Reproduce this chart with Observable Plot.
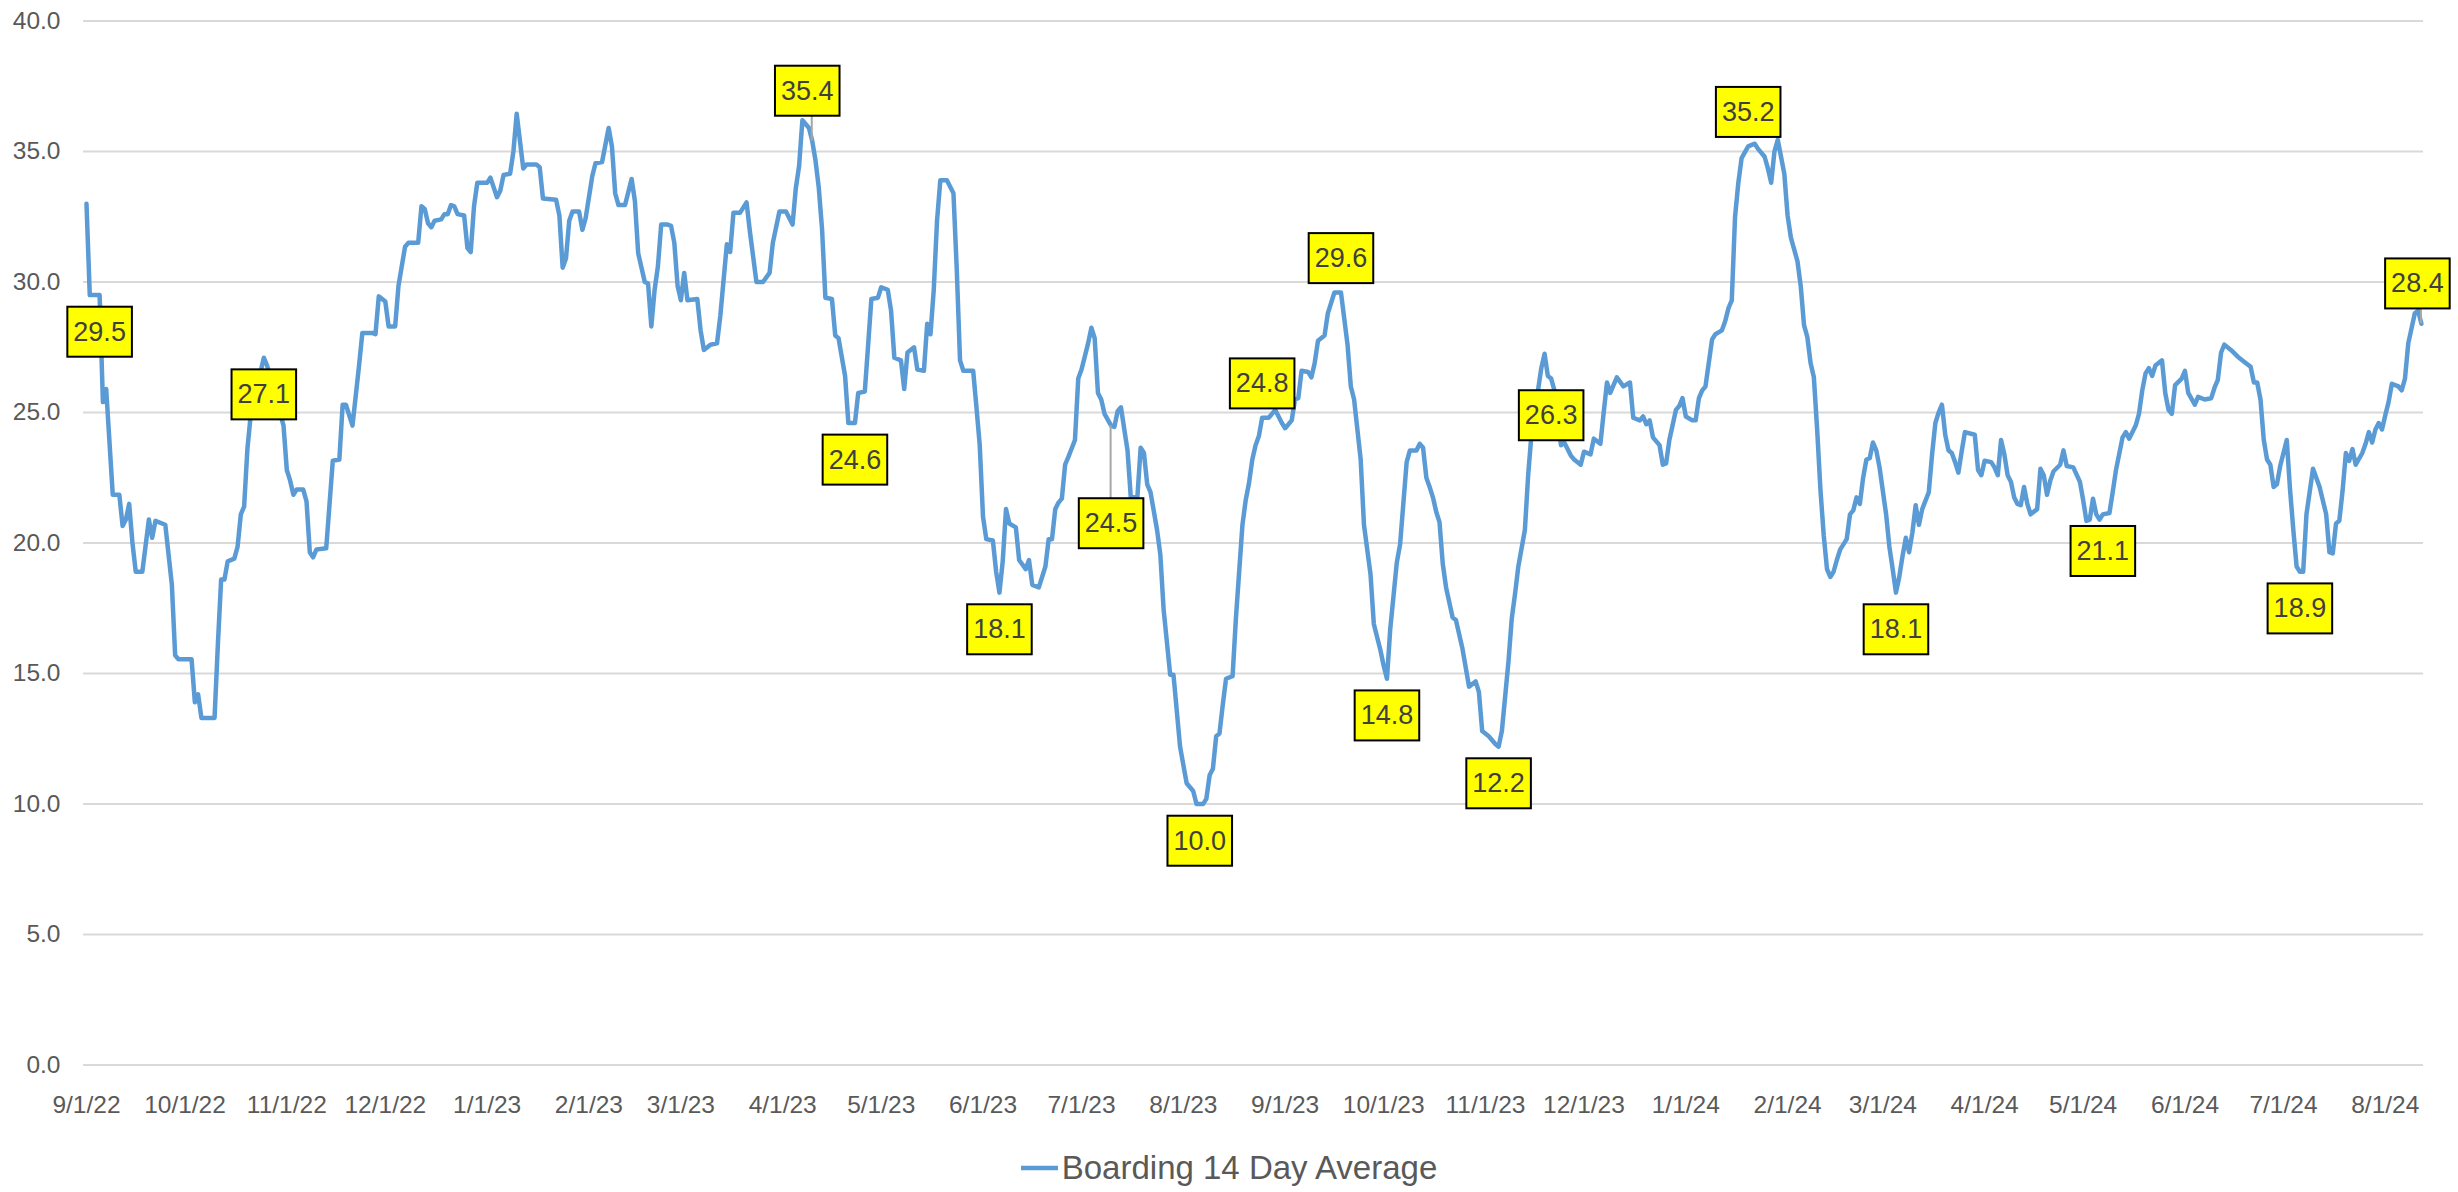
<!DOCTYPE html>
<html>
<head>
<meta charset="utf-8">
<script src="https://cdn.jsdelivr.net/npm/d3@7"></script>
<script src="https://cdn.jsdelivr.net/npm/@observablehq/plot@0.6"></script>
<style>
  html, body { margin: 0; padding: 0; background: #ffffff; }
  #chart { width: 2458px; }
  .legend { height: 86px; display: flex; align-items: center; justify-content: center;
    font-family: "Liberation Sans", Arial, sans-serif; font-size: 33px; color: #595959; }
  .legend svg { margin-right: 4px; }
</style>
</head>
<body>
<div id="chart"></div>
<div class="legend"><svg width="37" height="10"><line x1="0" y1="5" x2="37" y2="5" stroke="#5B9BD5" stroke-width="4.5"></line></svg><span id="legendText"></span></div>
<script>
// ---------------- DATA ----------------
const seriesName = "Boarding 14 Day Average";

const dates = [
  "2022-09-01","2022-09-02","2022-09-05","2022-09-06","2022-09-07","2022-09-09","2022-09-11","2022-09-12","2022-09-13","2022-09-14","2022-09-15","2022-09-16","2022-09-18","2022-09-20","2022-09-21","2022-09-22","2022-09-25","2022-09-27","2022-09-28","2022-09-29",
  "2022-10-03","2022-10-04","2022-10-05","2022-10-06","2022-10-10","2022-10-11","2022-10-12","2022-10-13","2022-10-14","2022-10-16","2022-10-17","2022-10-18","2022-10-19","2022-10-20","2022-10-21","2022-10-25","2022-10-26","2022-10-31",
  "2022-11-01","2022-11-02","2022-11-03","2022-11-04","2022-11-06","2022-11-07","2022-11-08","2022-11-09","2022-11-10","2022-11-13","2022-11-15","2022-11-17","2022-11-18","2022-11-19","2022-11-21","2022-11-23","2022-11-24","2022-11-27","2022-11-28","2022-11-29",
  "2022-12-01","2022-12-02","2022-12-04","2022-12-05","2022-12-07","2022-12-08","2022-12-11","2022-12-12","2022-12-13","2022-12-14","2022-12-15","2022-12-16","2022-12-18","2022-12-19","2022-12-20","2022-12-21","2022-12-22","2022-12-23","2022-12-25","2022-12-26","2022-12-27","2022-12-28","2022-12-29",
  "2023-01-01","2023-01-02","2023-01-04","2023-01-05","2023-01-06","2023-01-08","2023-01-09","2023-01-10","2023-01-12","2023-01-13","2023-01-16","2023-01-17","2023-01-18","2023-01-22","2023-01-23","2023-01-24","2023-01-25","2023-01-26","2023-01-27","2023-01-29","2023-01-30","2023-01-31",
  "2023-02-02","2023-02-03","2023-02-05","2023-02-07","2023-02-08","2023-02-09","2023-02-10","2023-02-12","2023-02-14","2023-02-15","2023-02-16","2023-02-18","2023-02-19","2023-02-20","2023-02-21","2023-02-22","2023-02-23","2023-02-25","2023-02-26","2023-02-27","2023-02-28",
  "2023-03-01","2023-03-02","2023-03-03","2023-03-06","2023-03-07","2023-03-08","2023-03-10","2023-03-12","2023-03-13","2023-03-15","2023-03-16","2023-03-17","2023-03-19","2023-03-21","2023-03-22","2023-03-24","2023-03-26","2023-03-28","2023-03-29","2023-03-31",
  "2023-04-02","2023-04-04","2023-04-05","2023-04-06","2023-04-07","2023-04-09","2023-04-10","2023-04-11","2023-04-12","2023-04-13","2023-04-14","2023-04-16","2023-04-17","2023-04-18","2023-04-20","2023-04-21","2023-04-23","2023-04-24","2023-04-26","2023-04-27","2023-04-28","2023-04-30",
  "2023-05-01","2023-05-03","2023-05-04","2023-05-05","2023-05-07","2023-05-08","2023-05-09","2023-05-11","2023-05-12","2023-05-14","2023-05-15","2023-05-16","2023-05-17","2023-05-18","2023-05-19","2023-05-21","2023-05-23","2023-05-24","2023-05-25","2023-05-26","2023-05-29","2023-05-30","2023-05-31",
  "2023-06-01","2023-06-02","2023-06-04","2023-06-05","2023-06-06","2023-06-07","2023-06-08","2023-06-09","2023-06-11","2023-06-12","2023-06-14","2023-06-15","2023-06-16","2023-06-18","2023-06-20","2023-06-21","2023-06-22","2023-06-23","2023-06-24","2023-06-25","2023-06-26","2023-06-27","2023-06-29","2023-06-30",
  "2023-07-01","2023-07-03","2023-07-04","2023-07-05","2023-07-06","2023-07-07","2023-07-08","2023-07-10","2023-07-11","2023-07-12","2023-07-13","2023-07-15","2023-07-16","2023-07-18","2023-07-19","2023-07-20","2023-07-21","2023-07-22","2023-07-24","2023-07-25","2023-07-26","2023-07-28","2023-07-29","2023-07-31",
  "2023-08-02","2023-08-04","2023-08-05","2023-08-07","2023-08-08","2023-08-09","2023-08-10","2023-08-11","2023-08-12","2023-08-13","2023-08-14","2023-08-16","2023-08-17","2023-08-19","2023-08-20","2023-08-21","2023-08-22","2023-08-23","2023-08-24","2023-08-25","2023-08-26","2023-08-27","2023-08-29","2023-08-31",
  "2023-09-01","2023-09-03","2023-09-04","2023-09-05","2023-09-06","2023-09-08","2023-09-09","2023-09-10","2023-09-11","2023-09-13","2023-09-14","2023-09-16","2023-09-18","2023-09-20","2023-09-21","2023-09-22","2023-09-24","2023-09-25","2023-09-27","2023-09-28","2023-09-30",
  "2023-10-01","2023-10-02","2023-10-03","2023-10-05","2023-10-06","2023-10-08","2023-10-09","2023-10-11","2023-10-12","2023-10-13","2023-10-14","2023-10-15","2023-10-16","2023-10-17","2023-10-18","2023-10-19","2023-10-20","2023-10-22","2023-10-23","2023-10-25","2023-10-27","2023-10-29","2023-10-30","2023-10-31",
  "2023-11-02","2023-11-04","2023-11-05","2023-11-06","2023-11-08","2023-11-09","2023-11-10","2023-11-11","2023-11-13","2023-11-14","2023-11-15","2023-11-17","2023-11-18","2023-11-19","2023-11-20","2023-11-21","2023-11-22","2023-11-24","2023-11-25","2023-11-27","2023-11-28","2023-11-30",
  "2023-12-01","2023-12-03","2023-12-04","2023-12-06","2023-12-07","2023-12-08","2023-12-09","2023-12-11","2023-12-13","2023-12-15","2023-12-16","2023-12-18","2023-12-19","2023-12-20","2023-12-21","2023-12-22","2023-12-24","2023-12-25","2023-12-26","2023-12-27","2023-12-29","2023-12-30","2023-12-31",
  "2024-01-01","2024-01-03","2024-01-04","2024-01-05","2024-01-06","2024-01-07","2024-01-09","2024-01-10","2024-01-12","2024-01-13","2024-01-14","2024-01-15","2024-01-16","2024-01-17","2024-01-18","2024-01-20","2024-01-22","2024-01-23","2024-01-25","2024-01-26","2024-01-27","2024-01-28","2024-01-29","2024-01-30","2024-01-31",
  "2024-02-01","2024-02-02","2024-02-04","2024-02-05","2024-02-06","2024-02-07","2024-02-08","2024-02-09","2024-02-10","2024-02-11","2024-02-12","2024-02-13","2024-02-14","2024-02-15","2024-02-16","2024-02-17","2024-02-19","2024-02-20","2024-02-21","2024-02-22","2024-02-23","2024-02-24","2024-02-25","2024-02-26","2024-02-27","2024-02-28","2024-02-29",
  "2024-03-02","2024-03-03","2024-03-04","2024-03-05","2024-03-06","2024-03-07","2024-03-08","2024-03-09","2024-03-10","2024-03-11","2024-03-12","2024-03-13","2024-03-15","2024-03-16","2024-03-17","2024-03-18","2024-03-19","2024-03-20","2024-03-21","2024-03-22","2024-03-23","2024-03-24","2024-03-25","2024-03-26","2024-03-29","2024-03-30","2024-03-31",
  "2024-04-01","2024-04-03","2024-04-04","2024-04-05","2024-04-06","2024-04-07","2024-04-08","2024-04-09","2024-04-10","2024-04-11","2024-04-12","2024-04-13","2024-04-14","2024-04-15","2024-04-17","2024-04-18","2024-04-19","2024-04-20","2024-04-21","2024-04-22","2024-04-24","2024-04-25","2024-04-26","2024-04-28","2024-04-30",
  "2024-05-01","2024-05-02","2024-05-03","2024-05-04","2024-05-05","2024-05-06","2024-05-07","2024-05-09","2024-05-10","2024-05-11","2024-05-13","2024-05-14","2024-05-15","2024-05-17","2024-05-18","2024-05-19","2024-05-20","2024-05-21","2024-05-22","2024-05-23","2024-05-25","2024-05-26","2024-05-27","2024-05-28","2024-05-29","2024-05-31",
  "2024-06-01","2024-06-02","2024-06-04","2024-06-05","2024-06-07","2024-06-09","2024-06-10","2024-06-11","2024-06-12","2024-06-13","2024-06-15","2024-06-17","2024-06-19","2024-06-21","2024-06-22","2024-06-23","2024-06-24","2024-06-25","2024-06-26","2024-06-27","2024-06-28","2024-06-29","2024-06-30",
  "2024-07-02","2024-07-03","2024-07-04","2024-07-05","2024-07-06","2024-07-07","2024-07-08","2024-07-10","2024-07-12","2024-07-14","2024-07-15","2024-07-16","2024-07-17","2024-07-18","2024-07-19","2024-07-20","2024-07-21","2024-07-22","2024-07-23","2024-07-25","2024-07-26","2024-07-27","2024-07-28","2024-07-29","2024-07-30","2024-07-31",
  "2024-08-01","2024-08-02","2024-08-03","2024-08-05","2024-08-06","2024-08-07","2024-08-08","2024-08-10","2024-08-11","2024-08-12"
];

const boarding = [
  33.0,29.5,29.5,25.4,25.9,21.85,21.85,20.65,20.9,21.5,20.0,18.9,18.9,20.9,20.2,20.85,20.7,18.4,15.7,15.55,
  15.55,13.9,14.2,13.3,13.3,16.1,18.6,18.6,19.3,19.4,19.85,21.1,21.4,23.6,24.9,27.1,26.8,24.5,
  22.8,22.4,21.85,22.05,22.05,21.6,19.65,19.45,19.75,19.8,23.15,23.2,25.3,25.3,24.5,26.8,28.05,28.05,28.0,29.45,
  29.25,28.3,28.3,29.85,31.35,31.5,31.5,32.9,32.8,32.25,32.1,32.35,32.4,32.6,32.6,32.95,32.9,32.6,32.55,31.3,31.15,32.9,33.8,
  33.8,34.0,33.25,33.5,34.1,34.15,35.0,36.45,34.35,34.5,34.5,34.4,33.2,33.15,32.55,30.55,30.9,32.35,32.7,32.7,32.0,32.45,
  34.05,34.55,34.6,35.9,35.2,33.4,32.95,32.95,33.95,33.1,31.1,30.0,29.95,28.3,29.7,30.6,32.2,32.2,32.15,31.5,29.85,
  29.3,30.35,29.3,29.35,28.15,27.4,27.6,27.65,28.7,31.45,31.15,32.65,32.65,33.05,31.95,30.0,30.0,30.35,31.5,32.7,
  32.7,32.2,33.6,34.45,36.2,35.9,35.4,34.65,33.6,32.0,29.4,29.35,27.95,27.85,26.4,24.6,24.6,25.75,25.8,27.55,29.35,29.4,
  29.8,29.7,28.9,27.1,27.0,25.9,27.3,27.5,26.65,26.6,28.4,28.0,29.7,32.35,33.9,33.9,33.4,30.5,27.0,26.6,26.6,25.2,23.75,
  21.0,20.15,20.1,18.9,18.1,19.3,21.3,20.75,20.6,19.35,19.0,19.35,18.4,18.3,19.1,20.15,20.15,21.3,21.55,21.7,23.0,23.3,23.95,26.3,
  26.65,27.65,28.25,27.85,25.75,25.5,24.95,24.5,24.45,25.05,25.2,23.55,21.75,21.75,23.65,23.45,22.25,21.95,20.5,19.55,17.45,14.95,14.95,12.2,
  10.8,10.5,10.0,10.0,10.2,11.1,11.35,12.6,12.7,13.8,14.8,14.9,17.1,20.7,21.65,22.3,23.2,23.75,24.1,24.8,24.8,24.8,25.1,24.6,
  24.4,24.7,25.5,25.55,26.6,26.55,26.35,26.9,27.75,27.95,28.8,29.6,29.6,27.6,26.0,25.5,23.2,20.7,18.8,16.9,15.9,
  15.3,14.8,16.7,19.25,19.95,23.1,23.55,23.55,23.8,23.65,22.5,22.15,21.75,21.2,20.8,19.2,18.3,17.15,17.05,15.95,14.5,14.7,14.3,12.8,
  12.6,12.3,12.2,12.8,15.45,17.1,18.05,19.1,20.5,22.6,24.15,25.85,26.7,27.25,26.4,26.3,25.85,23.75,23.85,23.35,23.2,23.0,
  23.5,23.4,24.0,23.8,25.0,26.15,25.75,26.35,26.0,26.15,24.8,24.7,24.85,24.55,24.7,24.05,23.75,23.0,23.05,23.95,25.1,25.25,25.55,
  24.85,24.7,24.7,25.55,25.85,26.0,27.8,28.0,28.15,28.5,29.0,29.3,32.5,33.8,34.75,35.2,35.3,35.1,34.8,34.35,33.8,35.0,35.45,34.8,34.15,
  32.55,31.7,30.8,29.85,28.35,27.9,26.9,26.35,24.35,22.05,20.3,19.0,18.7,18.9,19.35,19.75,20.15,21.1,21.25,21.75,21.5,22.5,23.2,23.25,23.85,23.55,22.9,
  21.1,19.85,19.0,18.1,18.7,19.5,20.2,19.65,20.4,21.45,20.7,21.3,21.95,23.4,24.6,25.0,25.3,24.15,23.55,23.45,23.1,22.7,23.5,24.25,24.15,22.8,22.6,
  23.15,23.1,22.9,22.6,23.95,23.4,22.6,22.35,21.75,21.5,21.45,22.15,21.5,21.1,21.3,22.85,22.6,21.85,22.4,22.75,23.0,23.55,22.95,22.9,22.35,
  21.65,20.85,20.9,21.7,21.1,20.9,21.1,21.15,21.95,22.8,24.05,24.25,24.0,24.5,24.95,25.85,26.5,26.7,26.4,26.8,27.0,25.75,25.1,24.95,26.05,26.3,
  26.6,25.75,25.3,25.6,25.5,25.55,25.95,26.25,27.3,27.6,27.4,27.15,26.95,26.75,26.15,26.15,25.5,23.95,23.2,23.0,22.15,22.25,22.95,
  23.95,22.05,20.5,19.1,18.9,18.9,21.1,22.85,22.15,21.1,19.65,19.6,20.75,20.85,22.0,23.45,23.15,23.6,23.0,23.45,23.8,24.25,23.85,24.35,24.6,24.35,
  24.9,25.4,26.1,26.0,25.85,26.3,27.65,28.8,28.9,28.4
];

// data labels shown in yellow boxes
const labelDates  = ["2022-09-05","2022-10-25","2023-04-10","2023-04-23","2023-06-06","2023-07-10","2023-08-06","2023-08-25","2023-09-18","2023-10-02","2023-11-05","2023-11-21","2024-01-20","2024-03-05","2024-05-07","2024-07-06","2024-08-12"];
const labelValues = [29.5, 27.1, 35.4, 24.6, 18.1, 24.5, 10.0, 24.8, 29.6, 14.8, 12.2, 26.3, 35.2, 18.1, 21.1, 18.9, 28.4];
const labelTexts  = ["29.5","27.1","35.4","24.6","18.1","24.5","10.0","24.8","29.6","14.8","12.2","26.3","35.2","18.1","21.1","18.9","28.4"];

// axis ticks
const yTicks = [0, 5, 10, 15, 20, 25, 30, 35, 40];
const xTickDates = ["2022-09-01","2022-10-01","2022-11-01","2022-12-01","2023-01-01","2023-02-01","2023-03-01","2023-04-01","2023-05-01","2023-06-01","2023-07-01","2023-08-01","2023-09-01","2023-10-01","2023-11-01","2023-12-01","2024-01-01","2024-02-01","2024-03-01","2024-04-01","2024-05-01","2024-06-01","2024-07-01","2024-08-01"];

// ---------------- RENDERING ----------------
if (dates.length !== boarding.length) console.error("length mismatch", dates.length, boarding.length);

const FONT = '"Liberation Sans", Arial, sans-serif';
const BLUE = "#5B9BD5";

const series = dates.map((d, i) => ({date: new Date(d), value: boarding[i]}));
const labels = labelDates.map((d, i) => ({key: d, date: new Date(d), value: labelValues[i], text: labelTexts[i]}));

// label placement (Excel-style: below / above, a few moved with leader lines)
const specialPlacement = {
  "2023-04-10": {dx: -5, dy: -50, leader: true},
  "2023-07-10": {dx: 0, dy: 98, leader: true},
  "2024-08-12": {dx: -4, dy: -40, leader: true}
};
const aboveKeys = new Set(["2023-08-25", "2023-09-18", "2024-01-20"]);
function placementOf(l) {
  if (specialPlacement[l.key]) return specialPlacement[l.key];
  return aboveKeys.has(l.key) ? {dx: 0, dy: -34, leader: false} : {dx: 0, dy: 37, leader: false};
}
const groups = d3.groups(labels, l => { const p = placementOf(l); return `${p.dx}|${p.dy}|${p.leader}`; });
const labelMarks = groups.map(([k, rows]) => {
  const p = placementOf(rows[0]);
  return Plot.text(rows, {
    x: "date", y: "value", text: "text",
    dx: p.dx, dy: p.dy,
    textAnchor: "middle", lineAnchor: "middle",
    fill: "#404040", fontSize: 27, fontFamily: FONT,
    ariaDescription: p.leader ? "leader" : "plain"
  });
});

const xDomain = [new Date(Date.UTC(2022, 7, 31, 2, 10)), new Date(Date.UTC(2024, 7, 12, 15, 20))];

const plot = Plot.plot({
  width: 2458,
  height: 1125,
  marginTop: 20.5,
  marginBottom: 60.4,
  marginLeft: 83,
  marginRight: 35,
  style: {fontFamily: FONT, fontSize: "24.5px", color: "#595959", background: "#ffffff", overflow: "visible"},
  x: {
    type: "utc", domain: xDomain,
    ticks: xTickDates.map(d => new Date(d)),
    tickFormat: d3.utcFormat("%-m/%-d/%y"),
    tickSize: 0, tickPadding: 30, label: null
  },
  y: {
    domain: [0, 40], ticks: yTicks, tickFormat: d3.format(".1f"),
    tickSize: 0, tickPadding: 23, label: null
  },
  marks: [
    Plot.ruleY(yTicks, {stroke: "#d9d9d9", strokeWidth: 2}),
    Plot.line(series, {x: "date", y: "value", stroke: BLUE, strokeWidth: 4.5, strokeLinejoin: "round", strokeLinecap: "round"}),
    ...labelMarks
  ]
});

document.getElementById("chart").append(plot);
document.getElementById("legendText").textContent = seriesName;

// yellow boxes behind the data-label texts (and leader lines)
const NS = "http://www.w3.org/2000/svg";
plot.querySelectorAll('g[aria-label="text"]').forEach(g => {
  const m = /translate\(\s*([-\d.e]+)[\s,]+([-\d.e]+)\s*\)/.exec(g.getAttribute("transform") || "");
  const gdx = m ? +m[1] : 0, gdy = m ? +m[2] : 0;
  const leader = g.getAttribute("aria-description") === "leader";
  g.querySelectorAll("text").forEach(t => {
    const b = t.getBBox();
    const w = b.width + 12, h = 50;
    const cx = b.x + b.width / 2, cy = b.y + b.height / 2;
    const tr = t.getAttribute("transform");
    const rect = document.createElementNS(NS, "rect");
    rect.setAttribute("x", cx - w / 2);
    rect.setAttribute("y", cy - h / 2);
    rect.setAttribute("width", w);
    rect.setAttribute("height", h);
    rect.setAttribute("fill", "#FFFF00");
    rect.setAttribute("stroke", "#000000");
    rect.setAttribute("stroke-width", 2);
    if (tr) rect.setAttribute("transform", tr);
    g.insertBefore(rect, t);
    if (leader) {
      const px = -gdx, py = -gdy;
      const top = cy - h / 2, bottom = cy + h / 2, left = cx - w / 2, right = cx + w / 2;
      const ex = Math.max(left, Math.min(right, px));
      const ey = py > bottom ? bottom : (py < top ? top : cy);
      const line = document.createElementNS(NS, "line");
      line.setAttribute("x1", px); line.setAttribute("y1", py);
      line.setAttribute("x2", ex); line.setAttribute("y2", ey);
      line.setAttribute("stroke", "#a6a6a6");
      line.setAttribute("stroke-width", 2);
      if (tr) line.setAttribute("transform", tr);
      g.insertBefore(line, rect);
    }
  });
});
</script>
</body>
</html>
